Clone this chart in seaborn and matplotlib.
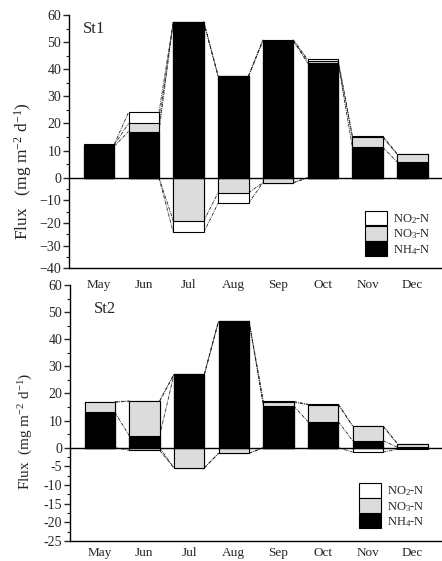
import numpy as np
import matplotlib
matplotlib.use('Agg')
import matplotlib.pyplot as plt
import seaborn as sns
from matplotlib.patches import Patch

# data (mg m-2 d-1)
months = ['May', 'Jun', 'Jul', 'Aug', 'Sep', 'Oct', 'Nov', 'Dec']

nh4_st1 = [11.6, 17.0, 57.5, 37.5, 50.5, 42.2, 11.2, 5.8]
no3_st1 = [0.5, 3.0, -19.1, -6.6, -2.2, 0.8, 3.7, 2.8]
no2_st1 = [0.2, 4.1, -5.0, -4.7, 0.4, 0.6, 0.4, 0.2]

nh4_st2 = [13.0, 4.4, 27.0, 46.7, 15.4, 9.6, 2.6, 0.2]
no3_st2 = [3.7, 12.8, -5.4, -1.5, 1.3, 6.3, 5.4, 1.3]
no2_st2 = [0.3, -0.7, 0.1, 0.1, 0.4, 0.1, -1.2, -0.4]

sns.set_style('ticks')
plt.rcParams['font.family'] = ['Liberation Serif', 'DejaVu Serif']
plt.rcParams['mathtext.fontset'] = 'custom'
plt.rcParams['mathtext.rm'] = 'Liberation Serif'
plt.rcParams['mathtext.it'] = 'Liberation Serif:italic'
plt.rcParams['mathtext.bf'] = 'Liberation Serif:bold'

GREY = '#dcdcdc'
BW = 0.68


def stack_levels(nh4, no3, no2):
    comps = np.array([nh4, no3, no2], dtype=float)
    pos = np.cumsum(np.clip(comps, 0, None), axis=0)
    neg = np.cumsum(np.clip(comps, None, 0), axis=0)
    return pos, neg


def draw_panel(ax, nh4, no3, no2, neg_ratio, ymin, yticks, ylabels, minor,
               name, leg_xy, ylab, xpad):
    pos, neg = stack_levels(nh4, no3, no2)
    colors = ['black', GREY, 'white']
    # overlay cumulative bars, largest first
    for levels in (pos, neg):
        for k in (2, 1, 0):
            sns.barplot(x=months, y=levels[k], color=colors[k], saturation=1,
                        edgecolor='black', linewidth=0.8, width=BW,
                        errorbar=None, ax=ax, zorder=3)

    # series lines between neighbouring bars
    x = np.arange(len(months))
    for levels in (pos, neg):
        for k in range(3):
            for i in range(len(months) - 1):
                ax.plot([x[i] + BW / 2, x[i + 1] - BW / 2],
                        [levels[k][i], levels[k][i + 1]],
                        color='0.15', lw=0.6, ls=(0, (4, 1.2, 1, 1.2)), zorder=2)

    ax.axhline(0, color='black', lw=1.0, zorder=4)

    fwd = lambda v: np.where(v >= 0, v, v * neg_ratio)
    inv = lambda v: np.where(v >= 0, v, v / neg_ratio)
    ax.set_yscale('function', functions=(fwd, inv))
    ax.set_ylim(ymin, 60)
    ax.set_xlim(-0.67, len(months) - 0.34)
    ax.set_yticks(yticks, ylabels)
    ax.set_yticks(minor, minor=True)

    sns.despine(ax=ax)
    ax.patch.set_visible(False)
    for s in ('left', 'bottom'):
        ax.spines[s].set_linewidth(1.0)
        ax.spines[s].set_color('black')
    ax.tick_params(axis='y', which='major', length=4, width=1, pad=1.5,
                   labelsize=10, direction='out')
    ax.tick_params(axis='y', which='minor', length=2.5, width=0.8, direction='out')
    ax.tick_params(axis='x', length=0, pad=xpad, labelsize=9.5)
    ax.set_xlabel('')
    ax.set_ylabel(ylab[0], fontsize=ylab[1])
    ax.yaxis.set_label_coords(-0.094, ylab[2])

    ax.text(name[1], name[2], name[0], transform=ax.transAxes, fontsize=12,
            va='center', ha='left')

    handles = [Patch(facecolor='white', edgecolor='black', lw=0.8),
               Patch(facecolor=GREY, edgecolor='black', lw=0.8),
               Patch(facecolor='black', edgecolor='black', lw=0.8)]
    labels = ['NO$_2$-N', 'NO$_3$-N', 'NH$_4$-N']
    ax.legend(handles, labels, loc='lower left', bbox_to_anchor=leg_xy,
              frameon=False, fontsize=9, borderpad=0, borderaxespad=0,
              labelspacing=0, handlelength=1.75, handleheight=1.45,
              handletextpad=0.45)


fig = plt.figure(figsize=(4.42, 5.61), dpi=100)
ax1 = fig.add_axes([0.156, 0.5217, 0.844, 0.4516])
ax2 = fig.add_axes([0.158, 0.0357, 0.842, 0.4563])

top_ticks = [-40, -30, -20, -10, 0, 10, 20, 30, 40, 50, 60]
top_labels = [str(t).replace('-', '\u2212') for t in top_ticks]
top_minor = [-35, -25, -15, -5, 5, 15, 25, 35, 45, 55]
draw_panel(ax1, nh4_st1, no3_st1, no2_st1, 0.835, -40, top_ticks, top_labels,
           top_minor, ('St1', 0.036, 0.943), (0.794, 0.046),
           (r'Flux   (mg m$^{-2}$ d$^{-1}$)', 12.5, 0.384), 7.5)

bot_ticks = [-25, -20, -15, -10, -5, 0, 10, 20, 30, 40, 50, 60]
bot_labels = [str(t) for t in bot_ticks]
bot_minor = [-22.5, -17.5, -12.5, -7.5, -2.5, 5, 15, 25, 35, 45, 55]
draw_panel(ax2, nh4_st2, no3_st2, no2_st2, 1.376, -25, bot_ticks, bot_labels,
           bot_minor, ('St2', 0.065, 0.906), (0.777, 0.047),
           (r'Flux  (mg m$^{-2}$ d$^{-1}$)', 11, 0.43), 4.0)

fig.savefig('out.png', dpi=100)
